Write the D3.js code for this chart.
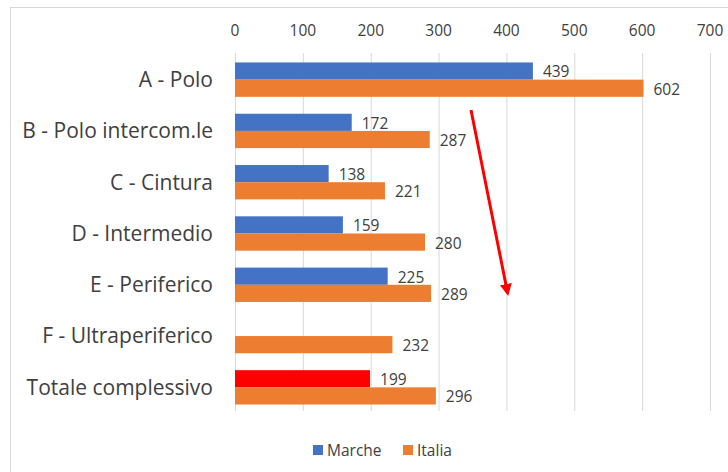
<!DOCTYPE html>
<html>
<head>
<meta charset="utf-8">
<script src="https://cdn.jsdelivr.net/npm/d3@7"></script>
<style>
  body { margin: 0; background: #fff; }
  text { font-family: "Open Sans", "Noto Sans", sans-serif; fill: #404040; }
</style>
</head>
<body>
<div id="chart"></div>
<script>
var categories = ['A - Polo', 'B - Polo intercom.le', 'C - Cintura', 'D - Intermedio',
  'E - Periferico', 'F - Ultraperiferico', 'Totale complessivo'];
var marche = [439, 172, 138, 159, 225, null, 199];
var italia = [602, 287, 221, 280, 289, 232, 296];
var seriesNames = ['Marche', 'Italia'];
var tickValues = [0, 100, 200, 300, 400, 500, 600, 700];

var width = 728, height = 472;
var colors = { Marche: '#4472C4', Italia: '#ED7D31' };

var svg = d3.select('#chart').append('svg')
  .attr('width', width)
  .attr('height', height);

// chart area border
svg.append('rect')
  .attr('x', 10.5).attr('y', 7.5)
  .attr('width', 740).attr('height', 480)
  .attr('fill', '#fff')
  .attr('stroke', '#d9d9d9');

var x = d3.scaleLinear().domain([0, 700]).range([235, 710]);
var y = d3.scaleBand().domain(categories).range([54, 413]).paddingInner(0.33).paddingOuter(0.165);
var sub = d3.scaleBand().domain(seriesNames).range([0, y.bandwidth()]);

// gridlines
svg.append('g').selectAll('line')
  .data(tickValues)
  .enter().append('line')
  .attr('x1', function(d){ return x(d) + 0.5; })
  .attr('x2', function(d){ return x(d) + 0.5; })
  .attr('y1', 53).attr('y2', 411)
  .attr('stroke', '#d9d9d9')
  .attr('stroke-width', 1);

// top axis labels
svg.append('g').selectAll('text')
  .data(tickValues)
  .enter().append('text')
  .attr('x', function(d){ return x(d); })
  .attr('y', 36)
  .attr('text-anchor', 'middle')
  .style('font-size', '15.5px')
  .text(function(d){ return d; });

// category labels
svg.append('g').selectAll('text')
  .data(categories)
  .enter().append('text')
  .attr('x', 213)
  .attr('y', function(d){ return y(d) + y.bandwidth() / 2; })
  .attr('dy', '0.35em')
  .attr('text-anchor', 'end')
  .style('font-size', '21px')
  .text(function(d){ return d; });

var rows = categories.map(function(c, i){
  return [
    { cat: c, s: 'Marche', v: marche[i], last: i === categories.length - 1 },
    { cat: c, s: 'Italia', v: italia[i] }
  ];
});
var bars = [].concat.apply([], rows).filter(function(d){ return d.v != null; });

svg.append('g').selectAll('rect')
  .data(bars)
  .enter().append('rect')
  .attr('x', x(0))
  .attr('y', function(d){ return y(d.cat) + sub(d.s); })
  .attr('width', function(d){ return x(d.v) - x(0); })
  .attr('height', sub.bandwidth())
  .attr('fill', function(d){ return d.last ? '#FF0000' : colors[d.s]; });

svg.append('g').selectAll('text')
  .data(bars)
  .enter().append('text')
  .attr('x', function(d){ return x(d.v) + 10; })
  .attr('y', function(d){ return y(d.cat) + sub(d.s) + sub.bandwidth() / 2 + 1; })
  .attr('dy', '0.35em')
  .style('font-size', '15.5px')
  .text(function(d){ return d.v; });

// red arrow
var defs = svg.append('defs');
defs.append('marker')
  .attr('id', 'arrow')
  .attr('viewBox', '0 0 10 10')
  .attr('refX', 5).attr('refY', 5)
  .attr('markerWidth', 4).attr('markerHeight', 4)
  .attr('orient', 'auto')
  .append('path')
  .attr('d', 'M0,0 L10,5 L0,10 Z')
  .attr('fill', '#FF0000');

svg.append('line')
  .attr('x1', 471).attr('y1', 110)
  .attr('x2', 507).attr('y2', 290)
  .attr('stroke', '#FF0000')
  .attr('stroke-width', 3)
  .attr('marker-end', 'url(#arrow)');

// legend
var legend = svg.append('g');
var legendX = [313, 403];
seriesNames.forEach(function(s, i){
  legend.append('rect')
    .attr('x', legendX[i]).attr('y', 445)
    .attr('width', 10).attr('height', 10)
    .attr('fill', colors[s]);
  legend.append('text')
    .attr('x', legendX[i] + 14).attr('y', 451)
    .attr('dy', '0.35em')
    .style('font-size', '15.5px')
    .text(s);
});
</script>
</body>
</html>
